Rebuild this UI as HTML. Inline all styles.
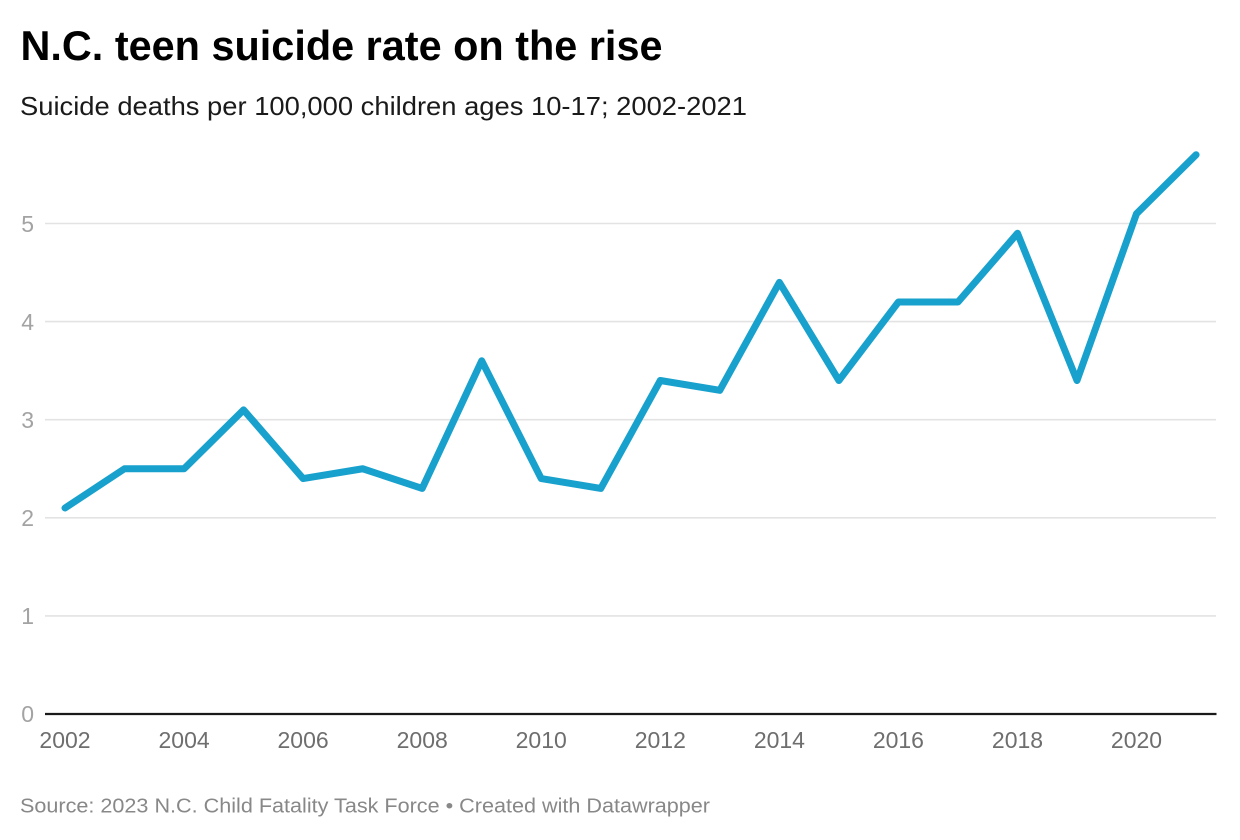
<!DOCTYPE html>
<html>
<head>
<meta charset="utf-8">
<style>
  html, body { margin: 0; padding: 0; background: #ffffff; }
  body { width: 1240px; height: 840px; overflow: hidden; }
  svg { display: block; }
  text { font-family: "Liberation Sans", Arial, sans-serif; }
</style>
</head>
<body>
<svg width="1240" height="840" viewBox="0 0 1240 840" xmlns="http://www.w3.org/2000/svg">
  <rect x="0" y="0" width="1240" height="840" fill="#ffffff"/>

  <!-- Title & subtitle -->
  <text x="20.5" y="60" font-size="42" font-weight="bold" fill="#000000" textLength="642" lengthAdjust="spacingAndGlyphs">N.C. teen suicide rate on the rise</text>
  <text x="20" y="115" font-size="26" fill="#1a1a1a" textLength="727" lengthAdjust="spacingAndGlyphs">Suicide deaths per 100,000 children ages 10-17; 2002-2021</text>

  <!-- Gridlines -->
  <g stroke="#e3e3e3" stroke-width="1.6">
    <line x1="45" y1="615.9" x2="1216" y2="615.9"/>
    <line x1="45" y1="517.8" x2="1216" y2="517.8"/>
    <line x1="45" y1="419.7" x2="1216" y2="419.7"/>
    <line x1="45" y1="321.6" x2="1216" y2="321.6"/>
    <line x1="45" y1="223.5" x2="1216" y2="223.5"/>
  </g>

  <!-- Y labels -->
  <g font-size="23" fill="#a3a3a3" text-anchor="end">
    <text x="34" y="722">0</text>
    <text x="34" y="624">1</text>
    <text x="34" y="526">2</text>
    <text x="34" y="428">3</text>
    <text x="34" y="330">4</text>
    <text x="34" y="232">5</text>
  </g>

  <!-- Baseline axis -->
  <line x1="45" y1="714" x2="1216.5" y2="714" stroke="#1a1a1a" stroke-width="2.2"/>

  <!-- X labels -->
  <g font-size="23" fill="#6e6e6e" text-anchor="middle">
    <text x="65" y="748">2002</text>
    <text x="184.1" y="748">2004</text>
    <text x="303.1" y="748">2006</text>
    <text x="422.2" y="748">2008</text>
    <text x="541.2" y="748">2010</text>
    <text x="660.3" y="748">2012</text>
    <text x="779.4" y="748">2014</text>
    <text x="898.4" y="748">2016</text>
    <text x="1017.5" y="748">2018</text>
    <text x="1136.5" y="748">2020</text>
  </g>

  <!-- Data line -->
  <polyline fill="none" stroke="#18a1cd" stroke-width="7" stroke-linejoin="round" stroke-linecap="round"
    points="65,508 124.5,468.75 184.1,468.75 243.6,409.9 303.1,478.6 362.7,468.75 422.2,488.4 481.7,360.8 541.2,478.6 600.8,488.4 660.3,380.5 719.8,390.3 779.4,282.4 838.9,380.5 898.4,302 958,302 1017.5,233.3 1077,380.5 1136.5,213.7 1196.1,154.8"/>

  <!-- Source -->
  <text x="20" y="812.5" font-size="20" fill="#888888" textLength="690" lengthAdjust="spacingAndGlyphs">Source: 2023 N.C. Child Fatality Task Force • Created with Datawrapper</text>
</svg>
</body>
</html>
